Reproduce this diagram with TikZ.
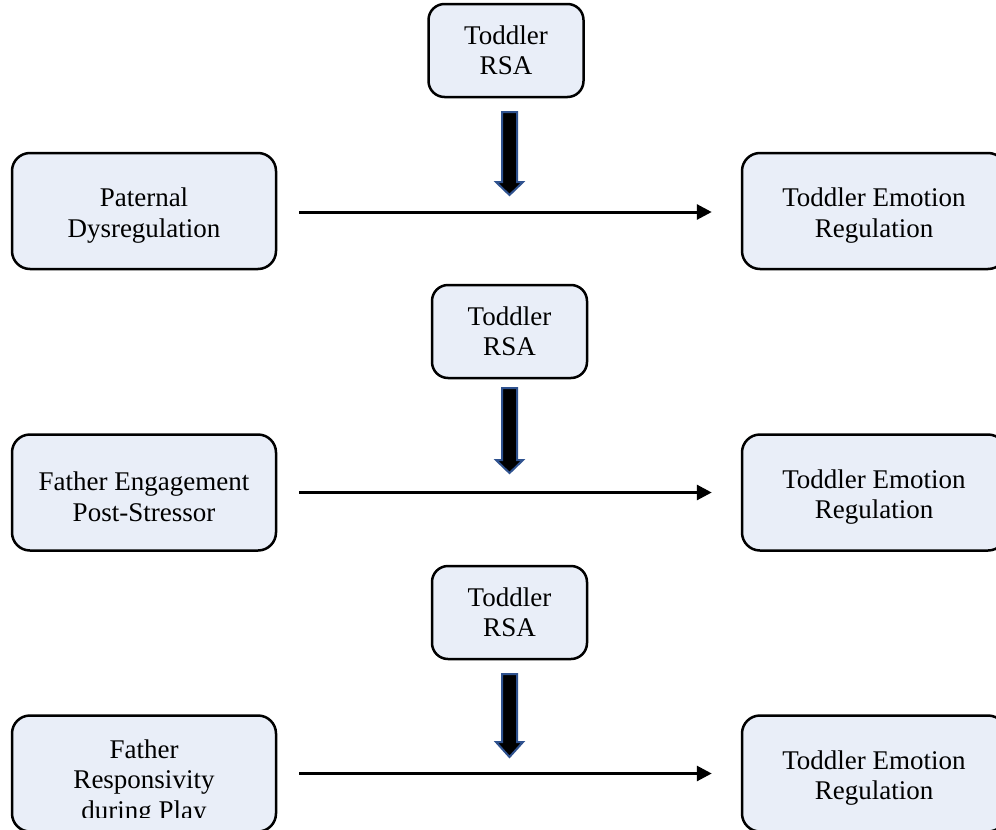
\documentclass[tikz,border=0pt]{standalone}
\usepackage{fontspec}
\setmainfont{Liberation Serif}
\usetikzlibrary{arrows.meta}
\definecolor{boxfill}{HTML}{E9EEF8}
\definecolor{arrowedge}{HTML}{2F528F}
\tikzset{
  box/.style={draw=black, line width=2.5pt, fill=boxfill, rounded corners=18pt,
    minimum width=264pt, minimum height=116pt, inner sep=0pt},
  rsabox/.style={draw=black, line width=2.5pt, fill=boxfill, rounded corners=16pt,
    minimum width=155pt, minimum height=93pt, inner sep=0pt,
    align=center, font=\fontsize{27}{30}\selectfont},
  txt/.style={inner sep=0pt, align=center, font=\fontsize{27}{30.5}\selectfont},
  link/.style={line width=3pt, -{Triangle[length=15pt,width=15pt]}},
  blockarrow/.style={fill=black, draw=arrowedge, line width=2pt, line join=miter}
}
\begin{document}
\begin{tikzpicture}[x=1pt,y=-1pt]
\clip (0,0) rectangle (996,830);
\fill[white] (0,0) rectangle (996,830);

% Row 1
\node[rsabox] (rsa1) at (506,50.5) {Toddler\\RSA};
\node[box] (L1) at (144,211) {};
\node[txt] (L1t) at ([yshift=-4.5pt]L1.center) {Paternal\\Dysregulation};
\node[box] (R1) at (874,211) {};
\node[txt] (R1t) at ([yshift=-4.5pt]R1.center) {Toddler Emotion\\Regulation};
\draw[link, shorten <=22pt, shorten >=29pt] ([yshift=-1pt]L1.east) -- ([yshift=-1pt]R1.west);
\draw[blockarrow] (502,112) -- (517,112) -- (517,182) -- (523,182) -- (509.5,195)
  -- (496,182) -- (502,182) -- cycle;

% Row 2
\node[rsabox] (rsa2) at (509.5,331.5) {Toddler\\RSA};
\node[box] (L2) at (144,492.5) {};
\node[txt] (L2t) at ([yshift=-4.5pt]L2.center) {Father Engagement\\Post-Stressor};
\node[box] (R2) at (874,492.5) {};
\node[txt] (R2t) at ([yshift=-4.5pt]R2.center) {Toddler Emotion\\Regulation};
\draw[link, shorten <=22pt, shorten >=29pt] (L2.east) -- (R2.west);
\draw[blockarrow] (502,388) -- (517,388) -- (517,460) -- (523,460) -- (509.5,473)
  -- (496,460) -- (502,460) -- cycle;

% Row 3
\node[rsabox] (rsa3) at (509.5,612.5) {Toddler\\RSA};
\node[box] (L3) at (144,773.5) {};
\begin{scope}
  \clip (12,700) rectangle (276,817);
  \node[txt, anchor=base] (L3t) at (144,819) {Father\\Responsivity\\during Play};
\end{scope}
\node[box] (R3) at (874,773.5) {};
\node[txt] (R3t) at ([yshift=-4.5pt]R3.center) {Toddler Emotion\\Regulation};
\draw[link, shorten <=22pt, shorten >=29pt] (L3.east) -- (R3.west);
\draw[blockarrow] (502,674) -- (517,674) -- (517,742) -- (523,742) -- (509.5,757)
  -- (496,742) -- (502,742) -- cycle;
\end{tikzpicture}
\end{document}
